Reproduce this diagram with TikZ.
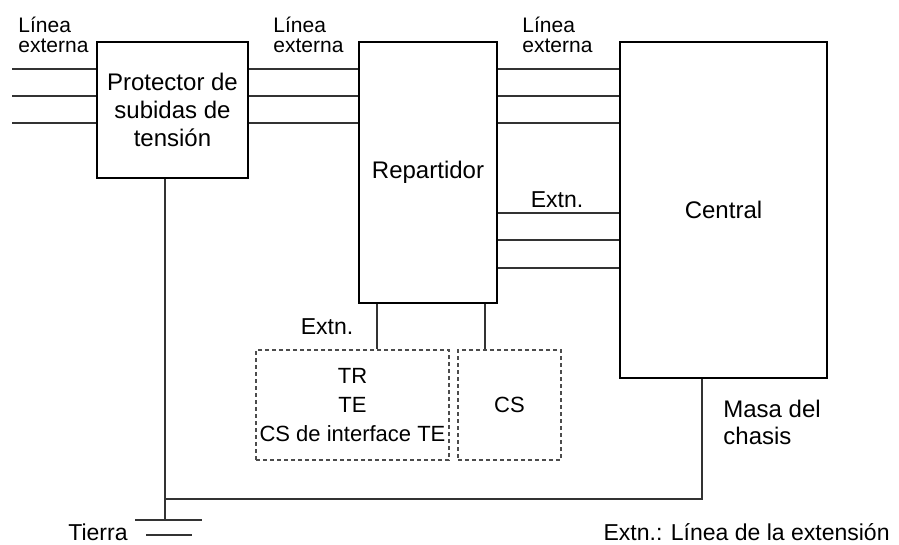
\documentclass[tikz,border=0pt]{standalone}
\usepackage{fontspec}
\setmainfont{Liberation Sans}

\begin{document}
\begin{tikzpicture}[x=0.5pt, y=-0.5pt,
	box/.style={draw, line width=0.8pt, inner sep=0pt, align=center, font=\fontsize{12}{14}\selectfont},
	dbox/.style={draw=black!70, line width=0.7pt, dash pattern=on 2pt off 1.5pt, inner sep=0pt, align=center, font=\fontsize{11}{14.5}\selectfont},
	wire/.style={draw=black!80, line width=0.6pt},
	lbl/.style={inner sep=0pt, align=left, font=\fontsize{10.5}{10}\selectfont},
	txt/.style={inner sep=0pt, align=left, font=\fontsize{11.5}{13.5}\selectfont}]
	\useasboundingbox (0,0) rectangle (899,545);
	% main boxes
	\node[box, minimum width=75.5pt, minimum height=68pt] (prot) at (172.5,110) {Protector de\\subidas de\\tensión};
	\node[box, minimum width=69pt, minimum height=130.5pt] (rep) at (428,172.5) {Repartidor};
	\node[box, minimum width=103.5pt, minimum height=168pt] (cent) at (723.5,210) {Central};
	\node[dbox, minimum width=96.5pt, minimum height=55pt] (term) at (352.5,405) {TR\\TE\\CS de interface TE};
	\node[dbox, minimum width=51.5pt, minimum height=55pt] (cs) at (509.5,405) {CS};
	% external lines
	\foreach \y [count=\i] in {69,96,123} {
		\coordinate (l\i) at (12,\y);
		\draw[wire] (l\i) -- (prot.west |- l\i);
		\draw[wire] (prot.east |- l\i) -- (rep.west |- l\i);
		\draw[wire] (rep.east |- l\i) -- (cent.west |- l\i);
	}
	% extension lines
	\foreach \y [count=\i] in {213,240,268} {
		\coordinate (e\i) at (0,\y);
		\draw[wire] (rep.east |- e\i) -- (cent.west |- e\i);
	}
	\draw[wire] (rep.south -| 377,0) -- (term.north -| 377,0);
	\draw[wire] (rep.south -| 485,0) -- (cs.north -| 485,0);
	% earth
	\coordinate (gnd) at (165,520);
	\coordinate (chasis) at (702,499);
	\draw[wire] (prot.south -| gnd) -- (gnd);
	\draw[wire] (chasis -| gnd) -- (chasis) -- (cent.south -| chasis);
	\draw[wire] (gnd) ++(-30,0) -- ++(67,0);
	\draw[wire] (gnd) ++(-19,15) -- ++(46,0);
	% labels
	\node[lbl, anchor=west] (ext1) at (18,35) {Línea\\externa};
	\node[lbl, anchor=west] (ext2) at (273,35) {Línea\\externa};
	\node[lbl, anchor=west] (ext3) at (522,35) {Línea\\externa};
	\node[txt] (extn1) at (557,200) {Extn.};
	\node[txt] (extn2) at (327,327) {Extn.};
	\node[txt, anchor=west, font=\fontsize{12}{13.5}\selectfont] (masa) at (723,422) {Masa del\\chasis};
	\node[txt] (tierra) at (98,532) {Tierra};
	\node[txt, anchor=east] (nota) at (890,532) {Extn.: Línea de la extensión};
\end{tikzpicture}
\end{document}
